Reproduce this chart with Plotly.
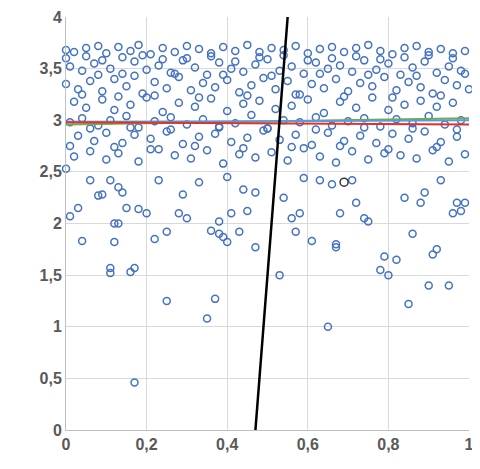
import plotly.graph_objects as go

x_low = [0.0,0.01,0.03,0.04,0.06,0.08,0.09,0.11,0.12,0.12,0.13,0.11,0.11,0.13,0.14,0.15,0.16,0.17,0.17,0.18,0.20,0.22,0.23,0.25,0.25,0.28,0.29,0.30,0.33,0.35,0.36,0.37,0.38,0.38,0.39,0.40,0.40,0.41,0.43,0.44,0.45,0.47,0.47,0.53,0.54,0.56,0.57,0.58,0.59,0.61,0.63,0.65,0.67,0.67,0.68,0.72,0.74,0.75,0.78,0.79,0.80,0.82,0.84,0.85,0.86,0.88,0.89,0.90,0.91,0.92,0.95,0.96,0.97,0.98,0.99,0.66,0.71,0.93]
y_low = [2.53,2.07,2.15,1.83,2.42,2.27,2.28,2.42,1.82,2.0,2.0,1.57,1.52,2.35,2.3,2.15,1.53,1.57,0.46,2.14,2.1,1.85,2.42,1.92,1.25,2.1,2.28,2.05,2.4,1.08,1.93,1.27,1.9,2.02,1.87,1.82,2.45,2.1,1.92,2.33,2.12,2.3,1.77,1.5,2.25,2.05,1.92,2.1,2.44,1.83,2.42,1.0,1.8,1.77,2.1,2.2,2.05,2.02,1.55,1.68,1.5,1.65,2.25,1.22,1.9,2.2,2.3,1.4,1.7,1.75,1.4,2.1,2.2,2.12,2.2,2.38,2.42,2.42]

x_up = [0.0,0.02,0.05,0.08,0.10,0.13,0.16,0.18,0.21,0.24,0.27,0.30,0.33,0.36,0.39,0.42,0.45,0.48,0.51,0.54,0.57,0.60,0.63,0.66,0.69,0.72,0.75,0.78,0.81,0.84,0.87,0.90,0.93,0.96,0.99,
        0.01,0.04,0.07,0.11,0.14,0.17,0.20,0.23,0.26,0.29,0.32,0.35,0.38,0.41,0.44,0.47,0.50,0.53,0.56,0.59,0.62,0.65,0.68,0.71,0.74,0.77,0.80,0.83,0.86,0.89,0.92,0.95,0.98,
        0.00,0.03,0.06,0.09,0.12,0.15,0.19,0.22,0.25,0.28,0.31,0.34,0.37,0.40,0.43,0.46,0.49,0.52,0.55,0.58,0.61,0.64,0.67,0.70,0.73,0.76,0.79,0.82,0.85,0.88,0.91,0.94,0.97,1.0,
        0.02,0.05,0.09,0.12,0.16,0.20,0.24,0.28,0.32,0.36,0.40,0.44,0.48,0.52,0.56,0.60,0.64,0.68,0.72,0.76,0.80,0.84,0.88,0.92,0.96,
        0.01,0.04,0.08,0.11,0.15,0.18,0.22,0.26,0.30,0.34,0.38,0.42,0.46,0.50,0.54,0.58,0.62,0.66,0.70,0.74,0.78,0.82,0.86,0.90,0.94,0.98,
        0.03,0.07,0.10,0.14,0.17,0.21,0.25,0.29,0.33,0.37,0.41,0.45,0.49,0.53,0.57,0.61,0.65,0.69,0.73,0.77,0.81,0.85,0.89,0.93,0.97,
        0.02,0.06,0.10,0.13,0.18,0.23,0.27,0.31,0.35,0.39,0.43,0.47,0.51,0.55,0.59,0.63,0.67,0.71,0.75,0.79,0.83,0.87,0.91,0.95,0.99,
        0.00,0.05,0.09,0.14,0.19,0.24,0.30,0.36,0.42,0.48,0.54,0.60,0.66,0.72,0.78,0.84,0.90,0.96,
        0.04,0.08,0.13,0.17,0.22,0.27,0.33,0.39,0.45,0.51,0.57,0.63,0.69,0.75,0.81,0.87,0.93,0.99,
        0.01,0.06,0.12,0.16,0.21,0.26,0.32,0.38,0.44,0.50,0.56,0.62,0.68,0.74,0.80,0.86,0.92,0.97]
y_up = [3.68,3.66,3.7,3.72,3.65,3.71,3.67,3.73,3.64,3.7,3.66,3.72,3.69,3.65,3.71,3.67,3.73,3.66,3.7,3.68,3.72,3.65,3.69,3.71,3.66,3.7,3.73,3.67,3.64,3.7,3.72,3.66,3.69,3.65,3.67,
        3.52,3.48,3.55,3.5,3.45,3.57,3.49,3.53,3.46,3.58,3.51,3.44,3.56,3.5,3.47,3.54,3.59,3.48,3.52,3.45,3.56,3.5,3.53,3.47,3.58,3.49,3.55,3.44,3.51,3.57,3.46,3.52,3.48,
        3.35,3.3,3.38,3.28,3.4,3.33,3.26,3.37,3.31,3.42,3.29,3.36,3.32,3.39,3.27,3.34,3.41,3.3,3.38,3.25,3.35,3.31,3.4,3.28,3.36,3.33,3.42,3.29,3.37,3.32,3.26,3.39,3.34,3.3,
        3.18,3.12,3.2,3.1,3.15,3.22,3.08,3.17,3.13,3.21,3.09,3.16,3.19,3.11,3.14,3.2,3.07,3.18,3.12,3.22,3.1,3.15,3.19,3.13,3.17,
        2.98,3.02,2.95,3.0,3.04,2.93,2.99,3.03,2.96,3.01,2.94,2.97,3.05,2.92,3.0,2.98,3.03,2.95,2.99,3.02,2.94,3.01,2.97,3.04,2.96,3.0,
        2.85,2.8,2.88,2.78,2.86,2.82,2.89,2.77,2.84,2.87,2.79,2.83,2.9,2.81,2.86,2.76,2.88,2.8,2.85,2.78,2.87,2.82,2.89,2.79,2.84,
        2.65,2.7,2.62,2.68,2.6,2.72,2.66,2.63,2.71,2.58,2.67,2.64,2.69,2.61,2.73,2.65,2.59,2.7,2.62,2.68,2.66,2.63,2.71,2.6,2.67,
        3.6,3.62,3.58,3.61,3.63,3.59,3.6,3.62,3.57,3.61,3.63,3.58,3.6,3.62,3.59,3.61,3.63,3.6,
        3.25,3.44,3.23,3.43,3.24,3.45,3.22,3.44,3.24,3.43,3.25,3.45,3.23,3.44,3.22,3.43,3.24,3.45,
        2.75,2.92,2.74,2.93,2.72,2.91,2.75,2.93,2.73,2.92,2.74,2.91,2.75,2.93,2.72,2.92,2.74,2.91]

x_dark = [0.69]
y_dark = [2.4]

x_line = [0, 1]
red_y = [2.98, 2.96]
green_y = [2.96, 3.02]
teal_y = [2.98, 3.0]
black_x = [0.47, 0.55]
black_y = [0, 4]

mk = dict(symbol="circle-open", size=7, color="#4472C4", line=dict(width=1.5))
fig = go.Figure()
fig.add_trace(go.Scatter(x=x_up + x_low, y=y_up + y_low, mode="markers", marker=mk, cliponaxis=False))
fig.add_trace(go.Scatter(x=x_dark, y=y_dark, mode="markers",
                         marker=dict(symbol="circle-open", size=8, color="#333333", line=dict(width=1.5))))
fig.add_trace(go.Scatter(x=x_line, y=green_y, mode="lines", line=dict(color="#70AD47", width=2)))
fig.add_trace(go.Scatter(x=x_line, y=teal_y, mode="lines", line=dict(color="#5B9BD5", width=2)))
fig.add_trace(go.Scatter(x=x_line, y=red_y, mode="lines", line=dict(color="#E03030", width=2)))
fig.add_trace(go.Scatter(x=black_x, y=black_y, mode="lines", line=dict(color="black", width=2.5)))

tickfont = dict(family="Liberation Sans", size=16, color="#595959", weight="bold")
fig.update_layout(
    width=480, height=469, showlegend=False,
    plot_bgcolor="white", paper_bgcolor="white",
    margin=dict(l=58, r=19, t=9, b=47),
    xaxis=dict(range=[0, 1], tickvals=[0, 0.2, 0.4, 0.6, 0.8, 1],
               ticktext=["0", "0,2", "0,4", "0,6", "0,8", "1"], automargin=False,
               showgrid=True, gridcolor="#D9D9D9", zeroline=False,
               showline=True, linecolor="#BFBFBF", tickfont=tickfont),
    yaxis=dict(range=[0, 4], tickvals=[0, 0.5, 1, 1.5, 2, 2.5, 3, 3.5, 4],
               ticktext=["0", "0,5", "1", "1,5", "2", "2,5", "3", "3,5", "4"], automargin=False,
               showgrid=True, gridcolor="#D9D9D9", zeroline=False,
               showline=True, linecolor="#BFBFBF", tickfont=tickfont),
)
fig.write_html("out.html")
